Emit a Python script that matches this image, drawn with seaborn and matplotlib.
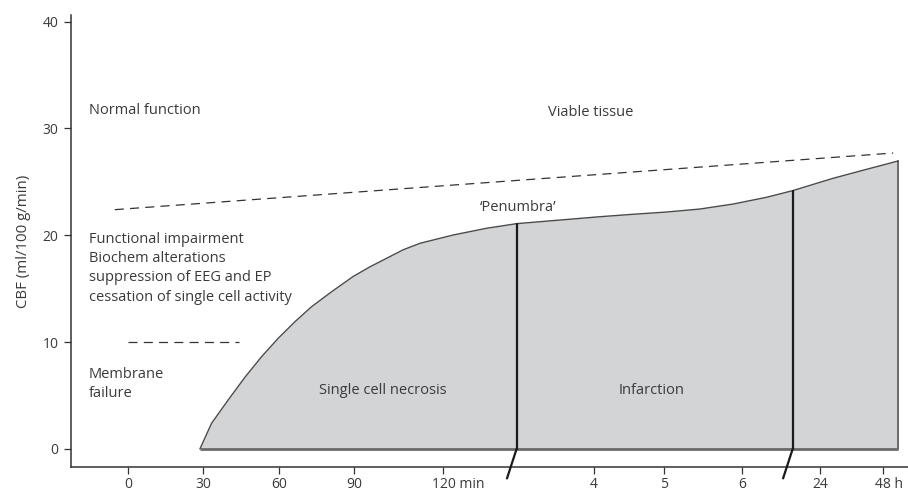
import matplotlib
matplotlib.use("Agg")
import matplotlib.pyplot as plt
import matplotlib.transforms as mtransforms
import seaborn as sns
import pandas as pd

# ---- data (x in a linear "position" scale, y = CBF ml/100 g/min) ----
tick_pos = [0, 30, 60, 90, 125, 185, 213, 244, 275, 300]
tick_labels = ["0", "30", "60", "90", "120 min", "4", "5", "6", "24", "48 h"]
y_ticks = [0, 10, 20, 30, 40]

curve_x = [28.6, 33.25, 39.85, 46.48, 53.12, 59.71, 66.35, 72.98, 80.93, 89.51,
           96.15, 102.78, 109.4, 116.01, 129.24, 142.51, 154.4, 187.5, 200.76,
           214.02, 227.26, 240.49, 253.75, 264.08, 280.21, 293.49, 306.04]
curve_y = [0.0, 2.41, 4.59, 6.71, 8.64, 10.36, 11.91, 13.32, 14.72, 16.15,
           17.05, 17.85, 18.65, 19.25, 20.03, 20.66, 21.09, 21.74, 21.97,
           22.18, 22.46, 22.93, 23.56, 24.18, 25.34, 26.18, 26.96]

upper_dash_x = [-5.2, 304.0]
upper_dash_y = [22.4, 27.7]
lower_dash_x = [0.0, 44.1]
lower_dash_y = [10.0, 10.0]

break_idx = [16, 23]   # curve points where the axis breaks

TXT = "#3a3a3a"
sns.set_theme(style="ticks")
plt.rcParams["font.family"] = ["Open Sans", "DejaVu Sans"]
plt.rcParams["lines.scale_dashes"] = False

fig = plt.figure(figsize=(9.08, 4.92), dpi=100)
ax = fig.add_axes([71 / 908, 25 / 492, (908 - 71) / 908, (467 - 15) / 492])

df_curve = pd.DataFrame({"x": curve_x, "y": curve_y})
ax.fill_between(curve_x, 0, curve_y, color="#d3d4d6", lw=0, zorder=1)
sns.lineplot(data=df_curve, x="x", y="y", ax=ax, color="#4a4a4a", lw=1.0,
             sort=False, estimator=None, zorder=3)
# bottom and right edge of the shaded area
ax.plot([curve_x[0], curve_x[-1]], [0, 0], color="#6a6a6a", lw=2.0, zorder=2,
        solid_capstyle="butt")
ax.plot([curve_x[-1], curve_x[-1]], [0, curve_y[-1]], color="#6a6a6a", lw=1.4,
        zorder=2)

dash = (0, (6.5, 4.5))
sns.lineplot(x=upper_dash_x, y=upper_dash_y, ax=ax, color="#333333", lw=0.9,
             linestyle=dash, zorder=3)
sns.lineplot(x=lower_dash_x, y=lower_dash_y, ax=ax, color="#333333", lw=0.9,
             linestyle=dash, zorder=3)

# axis break lines
for i in break_idx:
    bx, bt = curve_x[i], curve_y[i]
    ax.plot([bx, bx], [0, bt], color="#1a1a1a", lw=1.6, zorder=4)
    ax.plot([bx, bx - 3.8], [0, -2.75], color="#1a1a1a", lw=1.6, zorder=4,
            clip_on=False)

ax.set_xlim(-22.6, 309.9)
ax.set_ylim(-1.685, 40.62)
ax.set_xticks(tick_pos)
ax.set_xticklabels(tick_labels)
ax.set_yticks(y_ticks)
ax.set_xlabel("")
ax.set_ylabel("CBF (ml/100 g/min)", fontsize=10.8, color=TXT, labelpad=8)

for side in ["top", "right"]:
    ax.spines[side].set_visible(False)
for side in ["left", "bottom"]:
    ax.spines[side].set_color("#333333")
    ax.spines[side].set_linewidth(1.1)
ax.tick_params(axis="both", direction="out", length=5, width=0.9,
               color="#333333", labelsize=10, labelcolor=TXT, pad=4)
ax.tick_params(axis="x", pad=2)

# shift "120 min" and "48 h" so the number sits on its tick
offs = {"120 min": 16, "48 h": 6}
for lab in ax.get_xticklabels():
    t = lab.get_text()
    if t in offs:
        lab.set_transform(lab.get_transform() +
                          mtransforms.ScaledTranslation(offs[t] / 100, 0, fig.dpi_scale_trans))

fs = 10.5
ax.text(-15.5, 31.7, "Normal function", fontsize=fs, color=TXT, va="center", ha="left")
ax.text(183.9, 31.45, "Viable tissue", fontsize=fs, color=TXT, va="center", ha="center")
ax.text(155.1, 22.56, "\u2018Penumbra\u2019", fontsize=fs, color=TXT, va="center", ha="center")
for yy, s in zip([19.63, 17.85, 16.07, 14.2],
                 ["Functional impairment", "Biochem alterations",
                  "suppression of EEG and EP", "cessation of single cell activity"]):
    ax.text(-15.5, yy, s, fontsize=fs, color=TXT, va="center", ha="left")
ax.text(-15.5, 6.93, "Membrane", fontsize=fs, color=TXT, va="center", ha="left")
ax.text(-15.5, 5.15, "failure", fontsize=fs, color=TXT, va="center", ha="left")
ax.text(101.3, 5.46, "Single cell necrosis", fontsize=fs, color=TXT, va="center", ha="center")
ax.text(208.0, 5.46, "Infarction", fontsize=fs, color=TXT, va="center", ha="center")

fig.savefig("out.png", dpi=100)
